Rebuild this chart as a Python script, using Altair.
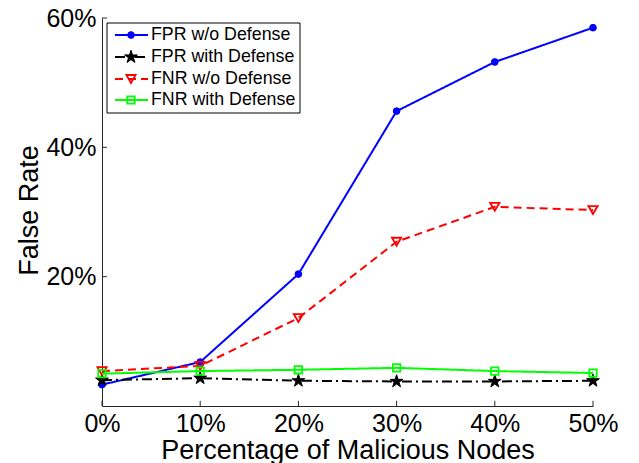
import altair as alt
import pandas as pd

# Share of malicious nodes in the network (%)
malicious_pct = [0, 10, 20, 30, 40, 50]

# False positive / false negative rates (%)
fpr_without = [3.3, 6.8, 20.4, 45.6, 53.2, 58.5]
fpr_with = [4.0, 4.3, 3.9, 3.8, 3.8, 3.9]
fnr_without = [5.4, 6.2, 13.6, 25.4, 30.8, 30.3]
fnr_with = [5.0, 5.4, 5.6, 5.9, 5.4, 5.1]

series_names = ["FPR w/o Defense", "FPR with Defense", "FNR w/o Defense", "FNR with Defense"]
series_values = [fpr_without, fpr_with, fnr_without, fnr_with]

x_ticks = [0, 10, 20, 30, 40, 50]
y_ticks = [20, 40, 60]

FONT = "Liberation Sans"
STAR = ("M0,-1L0.2245,-0.309L0.951,-0.309L0.363,0.118L0.588,0.809L0,0.382"
        "L-0.588,0.809L-0.363,0.118L-0.951,-0.309L-0.2245,-0.309Z")

styles = {
    "FPR w/o Defense": dict(color="#0000ff", dash=[1, 0], shape="circle", filled=True, size=45),
    "FPR with Defense": dict(color="#000000", dash=[10, 4, 2, 4], shape=STAR, filled=True, size=180),
    "FNR w/o Defense": dict(color="#ff0000", dash=[8, 5], shape="triangle-down", filled=False, size=85),
    "FNR with Defense": dict(color="#00ff00", dash=[1, 0], shape="square", filled=False, size=55),
}

x_scale = alt.Scale(domain=[0, 50], nice=False, zero=False)
y_scale = alt.Scale(domain=[0, 60], nice=False, zero=False)
x_axis = alt.Axis(values=x_ticks, labelExpr="datum.value + '%'", title="Percentage of Malicious Nodes",
                  ticks=False, tickSize=0, grid=False, labelPadding=5, labelFontSize=25,
                  titleFontSize=27, titleFontWeight="normal", titleBaseline="alphabetic", titleY=52,
                  labelFont=FONT, titleFont=FONT, labelColor="#000", titleColor="#000",
                  domainColor="#262626", labelFlush=False)
y_axis = alt.Axis(values=y_ticks, labelExpr="datum.value + '%'", title="False Rate",
                  ticks=False, tickSize=0, grid=False, labelPadding=6, labelFontSize=25,
                  titleFontSize=27, titleFontWeight="normal", titleBaseline="middle", titleX=-73,
                  titleY=192, labelFont=FONT, titleFont=FONT, labelColor="#000", titleColor="#000",
                  domainColor="#262626", labelFlush=False)


def X(field):
    return alt.X(field, type="quantitative", scale=x_scale, axis=x_axis)


def Y(field):
    return alt.Y(field, type="quantitative", scale=y_scale, axis=y_axis)


def point_style(st):
    kw = dict(shape=st["shape"], size=st["size"], opacity=1)
    if st["filled"]:
        kw.update(filled=True, fill=st["color"], stroke=st["color"], strokeWidth=1)
    else:
        kw.update(filled=False, fill="white", fillOpacity=0, stroke=st["color"], strokeWidth=1.8)
    return kw


rows = []
for name, vals in zip(series_names, series_values):
    for x, v in zip(malicious_pct, vals):
        rows.append({"series": name, "x": x, "rate": v})
df = pd.DataFrame(rows)

layers = []

# inward tick marks on both axes
xt = pd.DataFrame({"x": x_ticks, "y0": [0] * len(x_ticks), "y1": [0.8] * len(x_ticks)})
yt = pd.DataFrame({"y": y_ticks, "x0": [0] * len(y_ticks), "x1": [0.5] * len(y_ticks)})
layers.append(alt.Chart(xt).mark_rule(color="#262626", strokeWidth=1).encode(
    x=X("x"), y=Y("y0"), y2="y1"))
layers.append(alt.Chart(yt).mark_rule(color="#262626", strokeWidth=1).encode(
    y=Y("y"), x=X("x0"), x2="x1"))

for name in series_names:
    st = styles[name]
    sub = df[df.series == name]
    layers.append(alt.Chart(sub).mark_line(color=st["color"], strokeWidth=2, strokeDash=st["dash"]).encode(
        x=X("x"), y=Y("rate")))
    layers.append(alt.Chart(sub).mark_point(**point_style(st)).encode(x=X("x"), y=Y("rate")))

# legend box in the upper-left corner of the plot
one = pd.DataFrame({"k": [0]})
layers.append(alt.Chart(one).mark_rect(fill="white", stroke="black", strokeWidth=1).encode(
    x=alt.value(5), x2=alt.value(198), y=alt.value(5), y2=alt.value(95)))
row_y = [17, 39, 61, 82]
for name, ry in zip(series_names, row_y):
    st = styles[name]
    layers.append(alt.Chart(one).mark_rule(color=st["color"], strokeWidth=2, strokeDash=st["dash"]).encode(
        x=alt.value(13), x2=alt.value(46), y=alt.value(ry)))
    layers.append(alt.Chart(one).mark_point(**point_style(st)).encode(x=alt.value(29), y=alt.value(ry)))
    layers.append(alt.Chart(one).mark_text(text=name, align="left", baseline="middle", font=FONT,
                                           fontSize=17.8, color="black").encode(
        x=alt.value(49), y=alt.value(ry)))

chart = alt.layer(*layers).properties(
    width=491, height=388,
    autosize=alt.AutoSizeParams(type="none"),
    padding={"left": 102, "top": 18, "right": 46, "bottom": 57},
    background="white",
).configure_view(stroke=None)

chart.save("out.html", embed_options={"renderer": "svg", "actions": False})
